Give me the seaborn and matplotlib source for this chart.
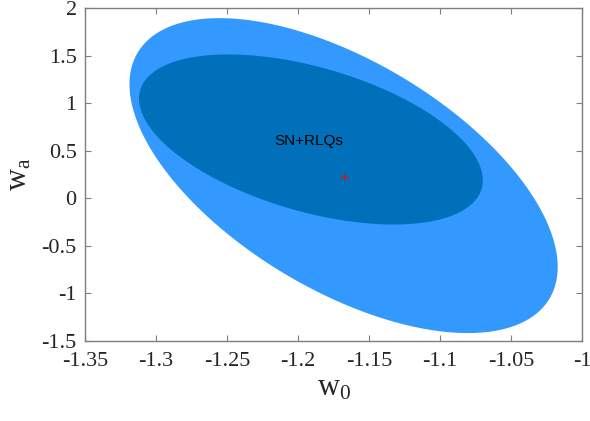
import numpy as np
import pandas as pd
import seaborn as sns
import matplotlib
matplotlib.use("Agg")
import matplotlib.pyplot as plt

# ---- data ----
contour_level = ["95%", "68%"]
center_w0 = [-1.168, -1.191]
center_wa = [0.240, 0.620]
half_w0 = [0.1507, 0.1210]
half_wa = [1.6565, 0.8945]
corr = [-0.58, -0.48]
fill_colors = ["#3399FF", "#0070BB"]

best_w0 = [-1.168]
best_wa = [0.228]

label_text = "SN+RLQs"
label_w0 = -1.1927
label_wa = 0.604

xticks = [-1.35, -1.3, -1.25, -1.2, -1.15, -1.1, -1.05, -1.0]
xtick_labels = ["-1.35", "-1.3", "-1.25", "-1.2", "-1.15", "-1.1", "-1.05", "-1"]
yticks = [-1.5, -1, -0.5, 0, 0.5, 1, 1.5, 2]
ytick_labels = ["-1.5", "-1", "-0.5", "0", "0.5", "1", "1.5", "2"]

# ---- style ----
sns.set_theme(style="ticks")
plt.rcParams["font.family"] = ["Liberation Serif", "DejaVu Serif"]
plt.rcParams["mathtext.fontset"] = "custom"
plt.rcParams["mathtext.rm"] = "Liberation Serif"
plt.rcParams["mathtext.it"] = "Liberation Serif"
plt.rcParams["axes.unicode_minus"] = False

fig = plt.figure(figsize=(5.9, 4.21), dpi=100)
ax = fig.add_axes([0.1441, 0.19, 0.9869 - 0.1441, 0.9803 - 0.19])

t = np.linspace(0, 2 * np.pi, 600)
for cx, cy, hx, hy, r, c in zip(center_w0, center_wa, half_w0, half_wa, corr, fill_colors):
    xs = cx + hx * np.cos(t)
    ys = cy + hy * (r * np.cos(t) + np.sqrt(1 - r ** 2) * np.sin(t))
    ax.fill(xs, ys, color=c, lw=0, zorder=2)

df = pd.DataFrame({"w0": best_w0, "wa": best_wa})
sns.lineplot(data=df, x="w0", y="wa", marker="+", color="red", markersize=6,
             markeredgewidth=0.7, markeredgecolor="red", linestyle="none",
             ax=ax, zorder=4)

ax.text(label_w0, label_wa, label_text, ha="center", va="center",
        fontsize=11, family=["Liberation Sans", "DejaVu Sans"], color="black", zorder=5)

ax.set_xlim(-1.35, -1.0)
ax.set_ylim(-1.5, 2)
ax.set_xticks(xticks)
ax.set_xticklabels(xtick_labels)
ax.set_yticks(yticks)
ax.set_yticklabels(ytick_labels)

for side in ["top", "right", "left", "bottom"]:
    ax.spines[side].set_visible(True)
    ax.spines[side].set_color("#7f7f7f")
    ax.spines[side].set_linewidth(1.0)

ax.tick_params(axis="both", which="both", direction="in", length=4, width=0.8,
               color="#7f7f7f", top=True, right=True, labelsize=16,
               labelcolor="#262626")
ax.tick_params(axis="x", pad=8)
ax.tick_params(axis="y", pad=6)

ax.set_xlabel(r"$\mathrm{w}_{\mathrm{0}}$", fontsize=22, color="#262626", labelpad=2)
ax.set_ylabel(r"$\mathrm{w}_{\mathrm{a}}$", fontsize=22, color="#262626", labelpad=6)
ax.set_facecolor("white")
ax.grid(False)

fig.savefig("out.png", dpi=100)
